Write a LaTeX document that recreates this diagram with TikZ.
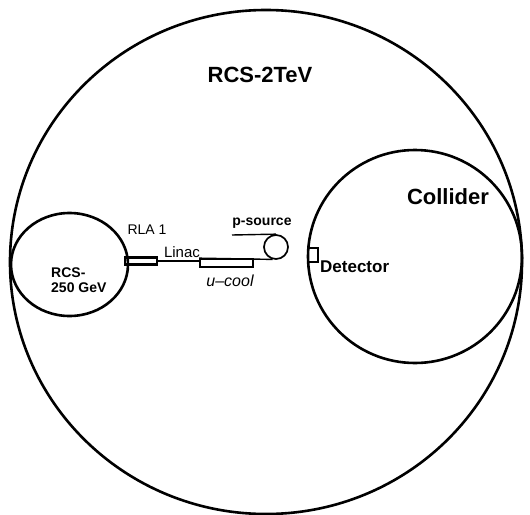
\documentclass[tikz,border=0pt]{standalone}
\usepackage{fontspec}
\setmainfont{Liberation Sans}
\usetikzlibrary{positioning}

\begin{document}
\begin{tikzpicture}[
    x=1pt, y=-1pt,
    every node/.style={inner sep=0pt},
    ring/.style={line width=2.6pt},
    part/.style={draw, line width=1.7pt, rectangle, minimum width=#1},
    beam/.style={line width=1.4pt},
    biglabel/.style={font=\fontsize{22}{26}\selectfont\bfseries},
    smalllabel/.style={font=\fontsize{14}{15}\selectfont},
]
\useasboundingbox (0,0) rectangle (530,514);

% === Rings ===
\def\bigR{256pt}    % RCS-2TeV ring, x radius
% RCS-2TeV (outer ring)
\draw[ring] (266,262) ellipse [x radius=\bigR, y radius=252pt];
% RCS-250 GeV (small ring, touching the outer one on the left)
\draw[ring] (69.5,264.5) ellipse [x radius=58.5pt, y radius=51.5pt];
% Collider ring
\draw[ring] (415,256.5) ellipse [x radius=107pt, y radius=106.5pt];

% === Injector chain ===
\node[part=32pt, minimum height=7pt, line width=2.4pt] (rla) at (141,261) {};
\node[part=53pt, minimum height=8pt] (ucool) at (226.5,263) {};
\node[draw, circle, line width=1.7pt, minimum size=24pt] (psrc) at (276,247) {};
\coordinate (psrcin) at (232,235);

\draw[beam] (rla.east) -- (rla.east -| ucool.west);
\draw[beam] (ucool.north west) -- (psrc.255);
\draw[beam] (psrcin) -- (psrc.north);

% === Detector ===
\node[part=10pt, minimum height=14pt] (det) at (313,255) {};

% === Labels ===
\node[biglabel] (rcs2) at (260,75) {RCS-2TeV};
\node[biglabel] (coll) at (448,197) {Collider};
\node[smalllabel] (rlalab) at (147,230) {RLA 1};
\node[font=\fontsize{15}{16}\selectfont] (linaclab) at (182,252) {Linac};
\node[font=\fontsize{14}{15}\selectfont\bfseries] (psrclab) at (262,223) {p-source};
\node[font=\fontsize{16}{17}\selectfont\itshape] (ucoollab) at (230,281) {u--cool};
\node[font=\fontsize{17}{18}\selectfont\bfseries, anchor=west] (detlab) at (320,267) {Detector};
\node[font=\fontsize{14}{15}\selectfont\bfseries, align=left, anchor=west] (rcs250) at (51,280) {RCS-\\250 GeV};

\end{tikzpicture}
\end{document}
